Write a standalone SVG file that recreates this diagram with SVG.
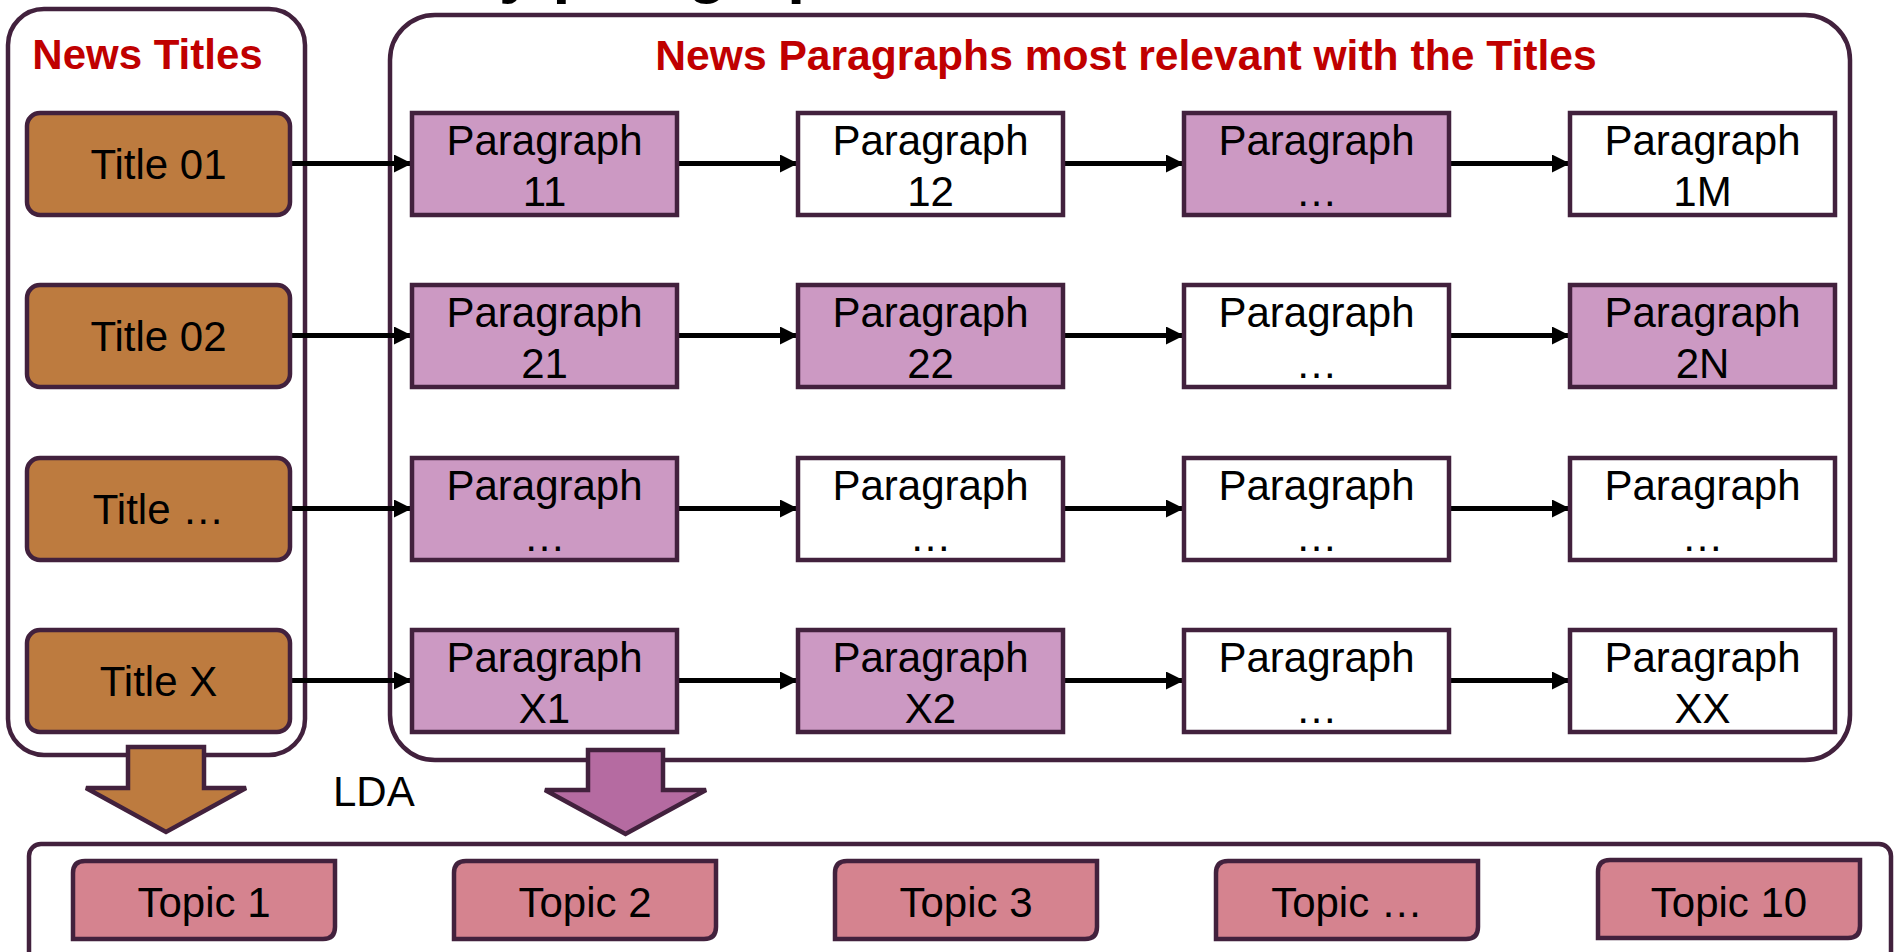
<svg xmlns="http://www.w3.org/2000/svg" width="1895" height="952" viewBox="0 0 1895 952">
  <style>
    text { font-family: "Liberation Sans", Arial, sans-serif; }
    .frame { fill: #ffffff; stroke: #42213D; stroke-width: 4.5; }
    .head { fill: #C00000; font-weight: bold; font-size: 42px; }
    .lbl { fill: #000000; font-size: 42px; text-anchor: middle; }
    .title { fill: #BD7B3F; stroke: #42213D; stroke-width: 4.5; }
    .para { stroke: #42213D; stroke-width: 4.5; }
    .pp { fill: #CC99C3; }
    .pw { fill: #ffffff; }
    .topic { fill: #D5838F; stroke: #42213D; stroke-width: 4.5; }
    .link { stroke: #000000; stroke-width: 5; fill: none; marker-end: url(#arrow); }
    .block { stroke: #42213D; stroke-width: 4.5; stroke-linejoin: miter; }
  </style>
  <defs>
    <marker id="arrow" markerUnits="userSpaceOnUse" markerWidth="18" markerHeight="18" refX="18" refY="9" orient="auto">
      <path d="M0,0 L18,9 L0,18 z" fill="#000000"/>
    </marker>
  </defs>

  <!-- slide heading, running off the top edge -->
  <text x="460" y="-9.5" font-size="64" font-weight="bold" fill="#000000">by paragraph</text>

  <!-- containers -->
  <g id="titles-panel">
    <rect class="frame" x="8" y="9" width="297" height="746" rx="36" ry="36"/>
    <text class="head" x="147.5" y="69" text-anchor="middle">News Titles</text>
  </g>
  <g id="paragraphs-panel">
    <rect class="frame" x="390" y="15" width="1460" height="745" rx="45" ry="45"/>
    <text class="head" x="1126" y="70" text-anchor="middle" style="font-size:42.6px">News Paragraphs most relevant with the Titles</text>
  </g>
  <g id="topics-panel">
    <rect class="frame" x="29" y="844" width="1862" height="160" rx="12" ry="12"/>
  </g>

  <!-- connectors -->
  <g id="connectors">
    <line class="link" x1="290" y1="163.5" x2="412" y2="163.5"/>
    <line class="link" x1="677" y1="163.5" x2="798" y2="163.5"/>
    <line class="link" x1="1063" y1="163.5" x2="1184" y2="163.5"/>
    <line class="link" x1="1449" y1="163.5" x2="1570" y2="163.5"/>

    <line class="link" x1="290" y1="335.5" x2="412" y2="335.5"/>
    <line class="link" x1="677" y1="335.5" x2="798" y2="335.5"/>
    <line class="link" x1="1063" y1="335.5" x2="1184" y2="335.5"/>
    <line class="link" x1="1449" y1="335.5" x2="1570" y2="335.5"/>

    <line class="link" x1="290" y1="508.5" x2="412" y2="508.5"/>
    <line class="link" x1="677" y1="508.5" x2="798" y2="508.5"/>
    <line class="link" x1="1063" y1="508.5" x2="1184" y2="508.5"/>
    <line class="link" x1="1449" y1="508.5" x2="1570" y2="508.5"/>

    <line class="link" x1="290" y1="680.5" x2="412" y2="680.5"/>
    <line class="link" x1="677" y1="680.5" x2="798" y2="680.5"/>
    <line class="link" x1="1063" y1="680.5" x2="1184" y2="680.5"/>
    <line class="link" x1="1449" y1="680.5" x2="1570" y2="680.5"/>
  </g>

  <!-- title nodes -->
  <g id="title-01"><rect class="title" x="27" y="113" width="263" height="102" rx="13"/><text class="lbl" x="158.5" y="179">Title 01</text></g>
  <g id="title-02"><rect class="title" x="27" y="285" width="263" height="102" rx="13"/><text class="lbl" x="158.5" y="351">Title 02</text></g>
  <g id="title-dots"><rect class="title" x="27" y="458" width="263" height="102" rx="13"/><text class="lbl" x="158.5" y="524">Title …</text></g>
  <g id="title-x"><rect class="title" x="27" y="630" width="263" height="102" rx="13"/><text class="lbl" x="158.5" y="696">Title X</text></g>

  <!-- paragraph nodes: row 1 -->
  <g id="para-11"><rect class="para pp" x="412" y="113" width="265" height="102"/><text class="lbl" x="544.5" y="155">Paragraph</text><text class="lbl" x="544.5" y="206">11</text></g>
  <g id="para-12"><rect class="para pw" x="798" y="113" width="265" height="102"/><text class="lbl" x="930.5" y="155">Paragraph</text><text class="lbl" x="930.5" y="206">12</text></g>
  <g id="para-1n"><rect class="para pp" x="1184" y="113" width="265" height="102"/><text class="lbl" x="1316.5" y="155">Paragraph</text><text class="lbl" x="1316.5" y="206">…</text></g>
  <g id="para-1m"><rect class="para pw" x="1570" y="113" width="265" height="102"/><text class="lbl" x="1702.5" y="155">Paragraph</text><text class="lbl" x="1702.5" y="206">1M</text></g>

  <!-- row 2 -->
  <g id="para-21"><rect class="para pp" x="412" y="285" width="265" height="102"/><text class="lbl" x="544.5" y="327">Paragraph</text><text class="lbl" x="544.5" y="378">21</text></g>
  <g id="para-22"><rect class="para pp" x="798" y="285" width="265" height="102"/><text class="lbl" x="930.5" y="327">Paragraph</text><text class="lbl" x="930.5" y="378">22</text></g>
  <g id="para-2n"><rect class="para pw" x="1184" y="285" width="265" height="102"/><text class="lbl" x="1316.5" y="327">Paragraph</text><text class="lbl" x="1316.5" y="378">…</text></g>
  <g id="para-2last"><rect class="para pp" x="1570" y="285" width="265" height="102"/><text class="lbl" x="1702.5" y="327">Paragraph</text><text class="lbl" x="1702.5" y="378">2N</text></g>

  <!-- row 3 -->
  <g id="para-31"><rect class="para pp" x="412" y="458" width="265" height="102"/><text class="lbl" x="544.5" y="500">Paragraph</text><text class="lbl" x="544.5" y="551">…</text></g>
  <g id="para-32"><rect class="para pw" x="798" y="458" width="265" height="102"/><text class="lbl" x="930.5" y="500">Paragraph</text><text class="lbl" x="930.5" y="551">…</text></g>
  <g id="para-33"><rect class="para pw" x="1184" y="458" width="265" height="102"/><text class="lbl" x="1316.5" y="500">Paragraph</text><text class="lbl" x="1316.5" y="551">…</text></g>
  <g id="para-34"><rect class="para pw" x="1570" y="458" width="265" height="102"/><text class="lbl" x="1702.5" y="500">Paragraph</text><text class="lbl" x="1702.5" y="551">…</text></g>

  <!-- row 4 -->
  <g id="para-x1"><rect class="para pp" x="412" y="630" width="265" height="102"/><text class="lbl" x="544.5" y="672">Paragraph</text><text class="lbl" x="544.5" y="723">X1</text></g>
  <g id="para-x2"><rect class="para pp" x="798" y="630" width="265" height="102"/><text class="lbl" x="930.5" y="672">Paragraph</text><text class="lbl" x="930.5" y="723">X2</text></g>
  <g id="para-xn"><rect class="para pw" x="1184" y="630" width="265" height="102"/><text class="lbl" x="1316.5" y="672">Paragraph</text><text class="lbl" x="1316.5" y="723">…</text></g>
  <g id="para-xx"><rect class="para pw" x="1570" y="630" width="265" height="102"/><text class="lbl" x="1702.5" y="672">Paragraph</text><text class="lbl" x="1702.5" y="723">XX</text></g>

  <!-- LDA block arrows -->
  <g id="lda-titles">
    <polygon class="block" fill="#BD7B3F" points="128,747 204,747 204,788 246,788 166,832 86,788 128,788"/>
  </g>
  <g id="lda-paragraphs">
    <polygon class="block" fill="#B56BA1" points="588,750 663,750 663,790 706,790 625.5,834 545,790 588,790"/>
  </g>
  <g id="lda-label">
    <text x="333" y="806" font-size="42" fill="#000000">LDA</text>
  </g>

  <!-- topic nodes: rounded top-left and bottom-right corners -->
  <g id="topic-1"><path class="topic" d="M85,861 H335 V927 Q335,939 323,939 H73 V873 Q73,861 85,861 Z"/><text class="lbl" x="204" y="917">Topic 1</text></g>
  <g id="topic-2"><path class="topic" d="M466,861 H716 V927 Q716,939 704,939 H454 V873 Q454,861 466,861 Z"/><text class="lbl" x="585" y="917">Topic 2</text></g>
  <g id="topic-3"><path class="topic" d="M847,861 H1097 V927 Q1097,939 1085,939 H835 V873 Q835,861 847,861 Z"/><text class="lbl" x="966" y="917">Topic 3</text></g>
  <g id="topic-dots"><path class="topic" d="M1228,861 H1478 V927 Q1478,939 1466,939 H1216 V873 Q1216,861 1228,861 Z"/><text class="lbl" x="1347" y="917">Topic …</text></g>
  <g id="topic-10"><path class="topic" d="M1610,860 H1860 V926 Q1860,938 1848,938 H1598 V872 Q1598,860 1610,860 Z"/><text class="lbl" x="1729" y="917">Topic 10</text></g>
</svg>
